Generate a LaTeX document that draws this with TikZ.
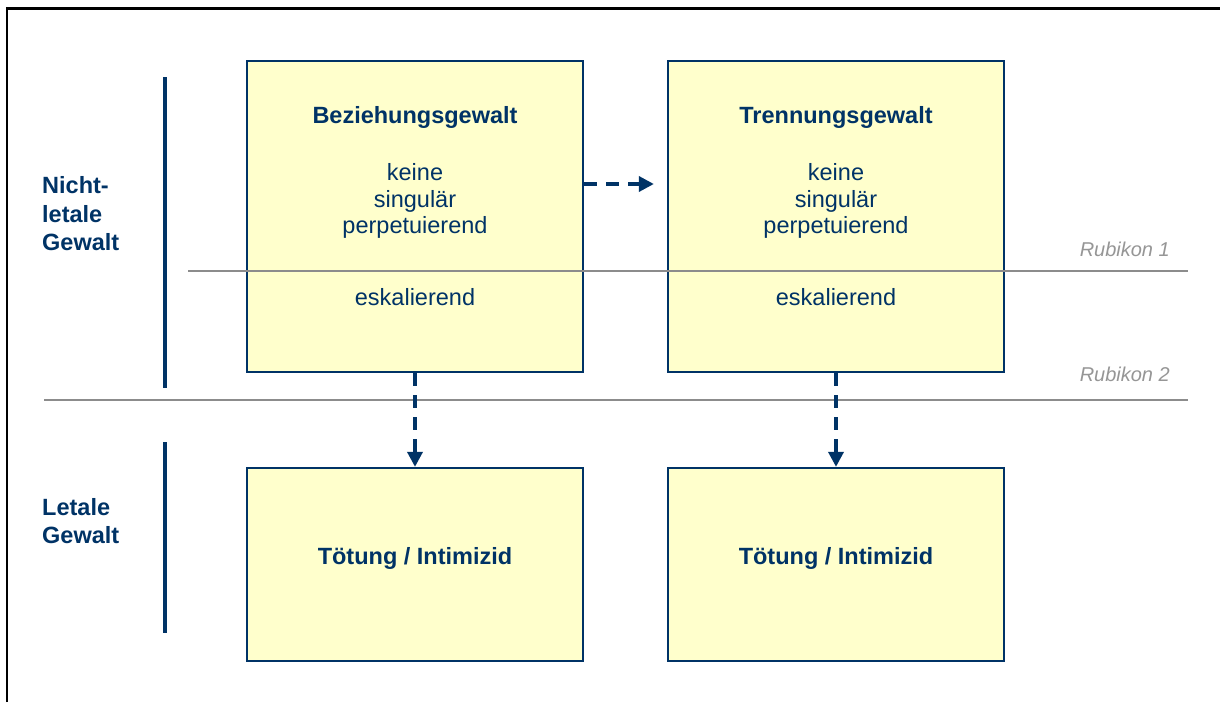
\documentclass[tikz,border=0pt]{standalone}
\usepackage{fontspec}
\setmainfont{Liberation Sans}
\usetikzlibrary{arrows.meta,calc}
\definecolor{navy}{HTML}{003366}
\definecolor{boxfill}{HTML}{FFFFCC}
\definecolor{rubline}{HTML}{8C8C8C}
\definecolor{rubtext}{HTML}{969696}
\begin{document}
\begin{tikzpicture}[x=1pt,y=-1pt,
  box/.style={draw=navy, line width=2.3pt, fill=boxfill, inner sep=0pt},
  bigbox/.style={box, minimum width=336pt, minimum height=311pt},
  smallbox/.style={box, minimum width=336pt, minimum height=193pt},
  txt/.style={text=navy, inner sep=0pt, anchor=base, font=\fontsize{23.5}{27}\selectfont},
  btxt/.style={txt, font=\fontsize{23.5}{27}\selectfont\bfseries},
  side/.style={text=navy, inner sep=0pt, anchor=base west, font=\fontsize{23.5}{28}\selectfont\bfseries},
  rub/.style={text=rubtext, inner sep=0pt, anchor=base east, font=\fontsize{20}{24}\selectfont\itshape},
  rubicon/.style={draw=rubline, line width=2pt},
  bar/.style={draw=navy, line width=3.6pt},
  arr/.style={draw=navy, line width=3.5pt, dash pattern=on 13pt off 9pt,
    -{Triangle[length=15pt,width=15pt]}},
  frame/.style={draw=black, line width=2.2pt}
]
\useasboundingbox (0,0) rectangle (1220,702);
\fill[white] (0,0) rectangle (1220,702);
% outer frame (partly visible)
\draw[frame] (7.3,702) -- (7.3,8.5) -- (1220,8.5);

% boxes
\node[bigbox] (b1) at (415,216.5) {};
\node[bigbox] (b2) at (836,216.5) {};
\node[smallbox] (l1) at (415,564.5) {};
\node[smallbox] (l2) at (836,564.5) {};

% Rubikon lines
\coordinate (r1a) at (188,271);
\coordinate (r1b) at (1188,271);
\coordinate (r2a) at (44,400);
\coordinate (r2b) at (1188,400);
\draw[rubicon] (r1a) -- (r1b);
\draw[rubicon] (r2a) -- (r2b);
\node[rub] (rub1) at (1170,256) {Rubikon 1};
\node[rub] (rub2) at (1170,381) {Rubikon 2};

% box texts
\node[btxt] (t1) at (415,123) {Beziehungsgewalt};
\node[txt] (k1) at (415,180) {keine};
\node[txt] (s1) at (415,207) {singulär};
\node[txt] (p1) at (415,233) {perpetuierend};
\node[txt] (e1) at (415,305) {eskalierend};

\node[btxt] (t2) at (836,123) {Trennungsgewalt};
\node[txt] (k2) at (836,180) {keine};
\node[txt] (s2) at (836,207) {singulär};
\node[txt] (p2) at (836,233) {perpetuierend};
\node[txt] (e2) at (836,305) {eskalierend};

\node[btxt] (m1) at (415,564) {Tötung / Intimizid};
\node[btxt] (m2) at (836,564) {Tötung / Intimizid};

% side labels
\node[side] (n1) at (42,193) {Nicht-};
\node[side] (n2) at (42,222) {letale};
\node[side] (n3) at (42,250) {Gewalt};
\node[side] (g1) at (42,515) {Letale};
\node[side] (g2) at (42,543) {Gewalt};

% side bars
\coordinate (ua) at (165,77);
\coordinate (ub) at (165,388);
\coordinate (la) at (165,442);
\coordinate (lb) at (165,633);
\draw[bar] (ua) -- (ub);
\draw[bar] (la) -- (lb);

% arrows
\coordinate (ha) at (0,184);
\draw[arr] (b1.east |- ha) -- ([xshift=-13pt]b2.west |- ha);
\draw[arr] (b1.south) -- (l1.north);
\draw[arr] (b2.south) -- (l2.north);
\end{tikzpicture}
\end{document}
